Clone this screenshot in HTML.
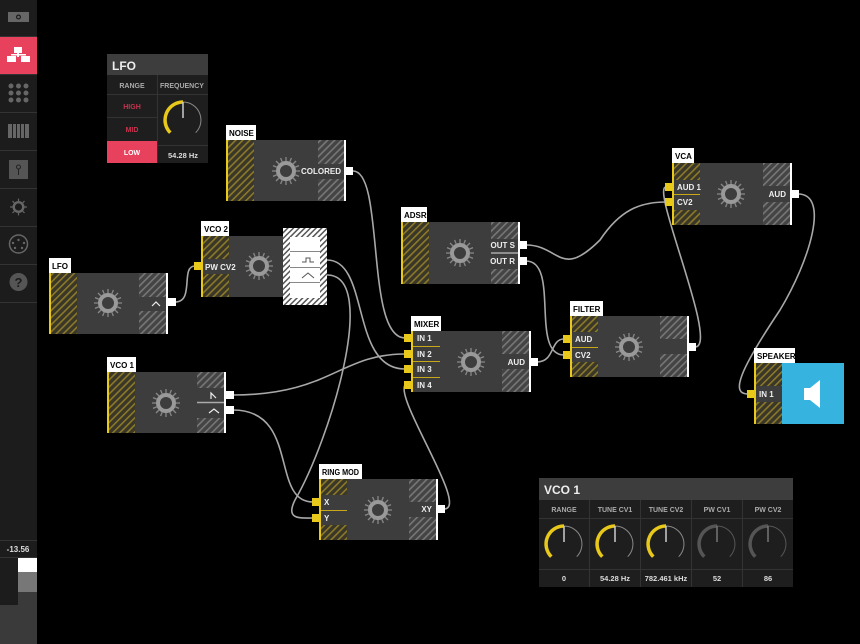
<!DOCTYPE html>
<html><head><meta charset="utf-8"><style>
html,body{margin:0;padding:0;background:#000;width:860px;height:644px;overflow:hidden}
svg{display:block}
text{font-family:"Liberation Sans",sans-serif;font-weight:bold}
</style></head><body>
<svg width="860" height="644" viewBox="0 0 860 644" xmlns="http://www.w3.org/2000/svg">
<defs>
<pattern id="hy" width="5" height="5" patternUnits="userSpaceOnUse" patternTransform="rotate(45)">
<rect width="5" height="5" fill="#3a3628"/><rect width="1.6" height="5" fill="#8a7a2a"/></pattern>
<pattern id="hg" width="5" height="5" patternUnits="userSpaceOnUse" patternTransform="rotate(45)">
<rect width="5" height="5" fill="#444"/><rect width="1.6" height="5" fill="#777"/></pattern>
<pattern id="hw" width="4" height="4" patternUnits="userSpaceOnUse" patternTransform="rotate(45)">
<rect width="4" height="4" fill="#fff"/><rect width="1.5" height="4" fill="#555"/></pattern>
<g id="knob">
<g stroke="#888" stroke-width="1.3">
<line x1="0" y1="-14" x2="0" y2="14"/><line x1="-14" y1="0" x2="14" y2="0"/>
<line x1="-10" y1="-10" x2="10" y2="10"/><line x1="-10" y1="10" x2="10" y2="-10"/>
<line x1="-5.4" y1="-13" x2="5.4" y2="13"/><line x1="5.4" y1="-13" x2="-5.4" y2="13"/>
<line x1="-13" y1="-5.4" x2="13" y2="5.4"/><line x1="-13" y1="5.4" x2="13" y2="-5.4"/>
</g>
<circle r="10" fill="#3d3d3d"/><circle r="8" fill="none" stroke="#999" stroke-width="4"/>
</g>
<g id="dial">
<path d="M0,-18 A18,18 0 0 1 12.7,12.7" fill="none" stroke="#888" stroke-width="1"/>
<path d="M-12.7,12.7 A18,18 0 0 1 0,-18" fill="none" stroke="#e8c81a" stroke-width="3.5"/>
<line x1="0" y1="-18" x2="0" y2="-2" stroke="#ccc" stroke-width="1.5"/>
</g>
<g id="dialoff">
<path d="M0,-18 A18,18 0 0 1 12.7,12.7" fill="none" stroke="#555" stroke-width="1"/>
<path d="M-12.7,12.7 A18,18 0 0 1 0,-18" fill="none" stroke="#555" stroke-width="3.5"/>
<line x1="0" y1="-18" x2="0" y2="-2" stroke="#777" stroke-width="1.5"/>
</g>
</defs>

<rect x="0" y="0" width="37" height="644" fill="#1c1c1c"/>
<g stroke="#333" stroke-width="1">
<line x1="0" y1="36.5" x2="37" y2="36.5"/><line x1="0" y1="74.5" x2="37" y2="74.5"/><line x1="0" y1="112.5" x2="37" y2="112.5"/>
<line x1="0" y1="150.5" x2="37" y2="150.5"/><line x1="0" y1="188.5" x2="37" y2="188.5"/><line x1="0" y1="226.5" x2="37" y2="226.5"/>
<line x1="0" y1="264.5" x2="37" y2="264.5"/><line x1="0" y1="302.5" x2="37" y2="302.5"/>
</g>
<rect x="8" y="12" width="21" height="10" fill="#666"/><circle cx="18.5" cy="17" r="2.5" fill="#1c1c1c"/><circle cx="18.5" cy="17" r="1.3" fill="#666"/>
<rect x="0" y="37" width="37" height="37" fill="#e8415d"/>
<g fill="#fff"><rect x="14" y="47" width="8" height="6"/><rect x="7" y="56" width="9" height="6"/><rect x="21" y="56" width="9" height="6"/><rect x="17" y="53" width="2" height="4"/><rect x="11" y="54" width="15" height="1.5"/></g>
<g fill="#666"><circle cx="11" cy="86" r="2.5"/><circle cx="18.5" cy="86" r="2.5"/><circle cx="26" cy="86" r="2.5"/><circle cx="11" cy="93" r="2.5"/><circle cx="18.5" cy="93" r="2.5"/><circle cx="26" cy="93" r="2.5"/><circle cx="11" cy="100" r="2.5"/><circle cx="18.5" cy="100" r="2.5"/><circle cx="26" cy="100" r="2.5"/></g>
<g fill="#666"><rect x="8" y="124" width="21" height="14"/></g>
<g stroke="#1c1c1c" stroke-width="1"><line x1="12.5" y1="124" x2="12.5" y2="138"/><line x1="16.5" y1="124" x2="16.5" y2="138"/><line x1="20.5" y1="124" x2="20.5" y2="138"/><line x1="24.5" y1="124" x2="24.5" y2="138"/></g>
<rect x="9" y="160" width="19" height="19" fill="#555"/><circle cx="18.5" cy="167" r="2" fill="none" stroke="#222"/><line x1="18.5" y1="169" x2="18.5" y2="175" stroke="#222"/>
<g transform="translate(18.5,207) scale(0.6)"><g stroke="#666" stroke-width="2">
<line x1="0" y1="-14" x2="0" y2="14"/><line x1="-14" y1="0" x2="14" y2="0"/><line x1="-10" y1="-10" x2="10" y2="10"/><line x1="-10" y1="10" x2="10" y2="-10"/></g>
<circle r="10" fill="#1c1c1c"/><circle r="8" fill="none" stroke="#666" stroke-width="4"/></g>
<circle cx="18.5" cy="244" r="9" fill="none" stroke="#666" stroke-width="1.5"/><g fill="#666"><circle cx="13" cy="243" r="1.2"/><circle cx="24" cy="243" r="1.2"/><circle cx="18.5" cy="240" r="1.2"/><circle cx="15" cy="248" r="1.2"/><circle cx="22" cy="248" r="1.2"/></g>
<circle cx="18.5" cy="282" r="9" fill="#555"/><text x="18.5" y="287" font-size="13" fill="#1c1c1c" text-anchor="middle">?</text>
<line x1="0" y1="540.5" x2="37" y2="540.5" stroke="#333"/>
<line x1="0" y1="557.5" x2="37" y2="557.5" stroke="#333"/>
<text x="18" y="552" font-size="8" fill="#ddd" text-anchor="middle" font-weight="normal">-13.56</text>
<rect x="0" y="558" width="18" height="47" fill="#1c1c1c"/>
<rect x="18" y="558" width="19" height="14" fill="#fff"/>
<rect x="18" y="572" width="19" height="20" fill="#777"/>
<rect x="18" y="592" width="19" height="52" fill="#3a3a3a"/>
<rect x="0" y="605" width="18" height="39" fill="#3a3a3a"/>

<g fill="none" stroke="#a8a8a8" stroke-width="1.6">
<path d="M353,171 C385,171 365,338 405,338"/>
<path d="M175,302 C195,302 180,266 195,266"/>
<path d="M327,260 C370,260 350,369 405,369"/>
<path d="M327,275 C380,275 330,440 295,500 C285,520 300,518 313,518"/>
<path d="M233,395 C330,395 340,354 405,354"/>
<path d="M233,410 C300,410 270,502 313,502"/>
<path d="M444,509 C470,509 395,400 405,385"/>
<path d="M537,362 C555,362 550,339 564,339"/>
<path d="M526,245 C560,245 560,280 600,240 C620,210 640,202 666,202"/>
<path d="M526,261 C560,261 530,355 564,355"/>
<path d="M695,347 C720,347 650,187 666,187"/>
<path d="M798,194 C830,194 810,260 780,310 C740,370 730,394 748,394"/>
</g>

<rect x="107" y="54" width="101" height="109" fill="#1e1e1e"/>
<rect x="107" y="54" width="101" height="21" fill="#3d3d3d"/>
<text x="112" y="70" font-size="12" fill="#eee" font-weight="normal">LFO</text>
<g stroke="#333"><line x1="157.5" y1="75" x2="157.5" y2="163"/><line x1="107" y1="94.5" x2="208" y2="94.5"/><line x1="107" y1="117.5" x2="157" y2="117.5"/><line x1="158" y1="145.5" x2="208" y2="145.5"/></g>
<text x="132" y="88" font-size="7" fill="#aaa" text-anchor="middle" font-weight="normal">RANGE</text>
<text x="182" y="88" font-size="7" fill="#aaa" text-anchor="middle" font-weight="normal">FREQUENCY</text>
<text x="132" y="109" font-size="7" fill="#c8344e" text-anchor="middle" font-weight="normal">HIGH</text>
<text x="132" y="132" font-size="7" fill="#c8344e" text-anchor="middle" font-weight="normal">MID</text>
<rect x="107" y="141" width="50" height="22" fill="#e8415d"/>
<text x="132" y="155" font-size="7" fill="#fff" text-anchor="middle" font-weight="normal">LOW</text>
<text x="183" y="158" font-size="7.5" fill="#ddd" text-anchor="middle">54.28 Hz</text>
<use href="#dial" transform="translate(183,120)"/>

<g>
<rect x="226" y="125" width="30" height="15" fill="#fff"/><text x="229" y="136" font-size="8" fill="#000">NOISE</text>
<rect x="226" y="140" width="119" height="61" fill="#3d3d3d"/>
<rect x="226" y="140" width="28" height="61" fill="url(#hy)"/><rect x="226" y="140" width="2" height="61" fill="#e8c81a"/>
<rect x="318" y="140" width="27" height="24" fill="url(#hg)"/><rect x="318" y="179" width="27" height="22" fill="url(#hg)"/>
<rect x="344" y="140" width="2" height="61" fill="#fff"/>
<text x="341" y="174" font-size="8" fill="#eee" text-anchor="end">COLORED</text>
<rect x="346" y="167" width="7" height="8" fill="#fff"/>
<use href="#knob" x="286" y="171"/>
</g>

<g>
<rect x="49" y="258" width="22" height="15" fill="#fff"/><text x="52" y="269" font-size="8" fill="#000">LFO</text>
<rect x="49" y="273" width="119" height="61" fill="#3d3d3d"/>
<rect x="49" y="273" width="28" height="61" fill="url(#hy)"/><rect x="49" y="273" width="2" height="61" fill="#e8c81a"/>
<rect x="139" y="273" width="27" height="24" fill="url(#hg)"/><rect x="139" y="311" width="27" height="23" fill="url(#hg)"/>
<rect x="166" y="273" width="2" height="61" fill="#fff"/>
<path d="M152,306 L156,302 L160,306" fill="none" stroke="#eee" stroke-width="1.2"/>
<rect x="168" y="298" width="8" height="8" fill="#fff"/>
<use href="#knob" x="108" y="303"/>
</g>

<g>
<rect x="201" y="221" width="28" height="15" fill="#fff"/><text x="204" y="232" font-size="8" fill="#000">VCO 2</text>
<rect x="201" y="236" width="82" height="61" fill="#3d3d3d"/>
<rect x="201" y="236" width="28" height="61" fill="url(#hy)"/><rect x="201" y="236" width="2" height="61" fill="#e8c81a"/>
<rect x="203" y="259" width="40" height="15" fill="#3d3d3d"/>
<text x="205" y="270" font-size="8" fill="#eee">PW CV2</text>
<rect x="194" y="262" width="8" height="8" fill="#e8c81a"/>
<use href="#knob" x="259" y="266"/>
<rect x="283" y="228" width="44" height="77" fill="url(#hw)"/>
<rect x="290" y="237" width="30" height="61" fill="#fff"/>
<g stroke="#888" stroke-width="1"><line x1="290" y1="251.5" x2="320" y2="251.5"/><line x1="290" y1="267.5" x2="320" y2="267.5"/><line x1="290" y1="282.5" x2="320" y2="282.5"/></g>
<path d="M302,262 h4 v-4 h4 v4 h4" fill="none" stroke="#555" stroke-width="1"/>
<path d="M302,278 L308,273 L314,278" fill="none" stroke="#555" stroke-width="1"/>
</g>

<g>
<rect x="401" y="207" width="26" height="15" fill="#fff"/><text x="404" y="218" font-size="8" fill="#000">ADSR</text>
<rect x="401" y="222" width="118" height="62" fill="#3d3d3d"/>
<rect x="401" y="222" width="28" height="62" fill="url(#hy)"/><rect x="401" y="222" width="2" height="62" fill="#e8c81a"/>
<rect x="491" y="222" width="27" height="17" fill="url(#hg)"/><rect x="491" y="269" width="27" height="15" fill="url(#hg)"/>
<rect x="518" y="222" width="2" height="62" fill="#fff"/>
<line x1="491" y1="253" x2="518" y2="253" stroke="#aaa" stroke-width="1.5"/>
<text x="515" y="248" font-size="8" fill="#eee" text-anchor="end">OUT S</text>
<text x="515" y="264" font-size="8" fill="#eee" text-anchor="end">OUT R</text>
<rect x="520" y="241" width="7" height="8" fill="#fff"/><rect x="520" y="257" width="7" height="8" fill="#fff"/>
<use href="#knob" x="460" y="253"/>
</g>

<g>
<rect x="411" y="316" width="30" height="15" fill="#fff"/><text x="414" y="327" font-size="8" fill="#000">MIXER</text>
<rect x="411" y="331" width="119" height="61" fill="#3d3d3d"/>
<rect x="411" y="331" width="2" height="61" fill="#e8c81a"/>
<rect x="502" y="331" width="27" height="23" fill="url(#hg)"/><rect x="502" y="369" width="27" height="23" fill="url(#hg)"/>
<rect x="529" y="331" width="2" height="61" fill="#fff"/>
<g stroke="#c8a818" stroke-width="1"><line x1="413" y1="346.5" x2="440" y2="346.5"/><line x1="413" y1="361.5" x2="440" y2="361.5"/><line x1="413" y1="377.5" x2="440" y2="377.5"/></g>
<text x="417" y="341" font-size="8" fill="#eee">IN 1</text><text x="417" y="357" font-size="8" fill="#eee">IN 2</text>
<text x="417" y="372" font-size="8" fill="#eee">IN 3</text><text x="417" y="388" font-size="8" fill="#eee">IN 4</text>
<g fill="#e8c81a"><rect x="404" y="334" width="8" height="8"/><rect x="404" y="350" width="8" height="8"/><rect x="404" y="365" width="8" height="8"/><rect x="404" y="381" width="8" height="8"/></g>
<text x="525" y="365" font-size="8" fill="#eee" text-anchor="end">AUD</text>
<rect x="531" y="358" width="7" height="8" fill="#fff"/>
<use href="#knob" x="471" y="362"/>
</g>

<g>
<rect x="570" y="301" width="33" height="15" fill="#fff"/><text x="573" y="312" font-size="8" fill="#000">FILTER</text>
<rect x="570" y="316" width="118" height="61" fill="#3d3d3d"/>
<rect x="570" y="316" width="28" height="61" fill="url(#hy)"/><rect x="570" y="316" width="2" height="61" fill="#e8c81a"/>
<rect x="572" y="332" width="26" height="30" fill="#3d3d3d"/>
<line x1="572" y1="347.5" x2="598" y2="347.5" stroke="#c8a818"/>
<rect x="660" y="316" width="27" height="23" fill="url(#hg)"/><rect x="660" y="354" width="27" height="23" fill="url(#hg)"/>
<rect x="687" y="316" width="2" height="61" fill="#fff"/>
<text x="575" y="342" font-size="8" fill="#eee">AUD</text><text x="575" y="358" font-size="8" fill="#eee">CV2</text>
<rect x="563" y="335" width="8" height="8" fill="#e8c81a"/><rect x="563" y="351" width="8" height="8" fill="#e8c81a"/>
<rect x="689" y="343" width="7" height="8" fill="#fff"/>
<use href="#knob" x="629" y="347"/>
</g>

<g>
<rect x="672" y="148" width="22" height="15" fill="#fff"/><text x="675" y="159" font-size="8" fill="#000">VCA</text>
<rect x="672" y="163" width="119" height="62" fill="#3d3d3d"/>
<rect x="672" y="163" width="28" height="62" fill="url(#hy)"/><rect x="672" y="163" width="2" height="62" fill="#e8c81a"/>
<rect x="674" y="180" width="26" height="30" fill="#3d3d3d"/>
<line x1="674" y1="194.5" x2="700" y2="194.5" stroke="#c8a818"/>
<rect x="763" y="163" width="27" height="23" fill="url(#hg)"/><rect x="763" y="202" width="27" height="23" fill="url(#hg)"/>
<rect x="790" y="163" width="2" height="62" fill="#fff"/>
<text x="677" y="190" font-size="8" fill="#eee">AUD 1</text><text x="677" y="205" font-size="8" fill="#eee">CV2</text>
<rect x="665" y="183" width="8" height="8" fill="#e8c81a"/><rect x="665" y="198" width="8" height="8" fill="#e8c81a"/>
<text x="786" y="197" font-size="8" fill="#eee" text-anchor="end">AUD</text>
<rect x="792" y="190" width="7" height="8" fill="#fff"/>
<use href="#knob" x="731" y="194"/>
</g>

<g>
<rect x="754" y="348" width="41" height="15" fill="#fff"/><text x="757" y="359" font-size="8" fill="#000">SPEAKER</text>
<rect x="754" y="363" width="28" height="61" fill="url(#hy)"/><rect x="754" y="363" width="2" height="61" fill="#e8c81a"/>
<rect x="756" y="386" width="26" height="16" fill="#3d3d3d"/>
<text x="759" y="397" font-size="8" fill="#eee">IN 1</text>
<rect x="747" y="390" width="8" height="8" fill="#e8c81a"/>
<rect x="782" y="363" width="62" height="61" fill="#36b3df"/>
<path d="M804,388 h6 l10,-8 v28 l-10,-8 h-6 z" fill="#fff"/>
</g>

<g>
<rect x="107" y="357" width="29" height="15" fill="#fff"/><text x="110" y="368" font-size="8" fill="#000">VCO 1</text>
<rect x="107" y="372" width="119" height="61" fill="#3d3d3d"/>
<rect x="107" y="372" width="28" height="61" fill="url(#hy)"/><rect x="107" y="372" width="2" height="61" fill="#e8c81a"/>
<rect x="197" y="372" width="27" height="16" fill="url(#hg)"/><rect x="197" y="418" width="27" height="15" fill="url(#hg)"/>
<rect x="224" y="372" width="2" height="61" fill="#fff"/>
<line x1="197" y1="402.5" x2="224" y2="402.5" stroke="#aaa" stroke-width="1.5"/>
<path d="M211,399 L211,393 L216,398" fill="none" stroke="#eee" stroke-width="1.2"/>
<path d="M209,413 L214,409 L219,413" fill="none" stroke="#eee" stroke-width="1.2"/>
<rect x="226" y="391" width="8" height="8" fill="#fff"/><rect x="226" y="406" width="8" height="8" fill="#fff"/>
<use href="#knob" x="166" y="403"/>
</g>

<g>
<rect x="319" y="464" width="43" height="15" fill="#fff"/><text x="322" y="475" font-size="8" fill="#000" textLength="37" lengthAdjust="spacingAndGlyphs">RING MOD</text>
<rect x="319" y="479" width="118" height="61" fill="#3d3d3d"/>
<rect x="319" y="479" width="28" height="61" fill="url(#hy)"/><rect x="319" y="479" width="2" height="61" fill="#e8c81a"/>
<rect x="321" y="495" width="26" height="30" fill="#3d3d3d"/>
<line x1="321" y1="510.5" x2="347" y2="510.5" stroke="#c8a818"/>
<rect x="409" y="479" width="27" height="23" fill="url(#hg)"/><rect x="409" y="517" width="27" height="23" fill="url(#hg)"/>
<rect x="436" y="479" width="2" height="61" fill="#fff"/>
<text x="324" y="505" font-size="8" fill="#eee">X</text><text x="324" y="521" font-size="8" fill="#eee">Y</text>
<rect x="312" y="498" width="8" height="8" fill="#e8c81a"/><rect x="312" y="514" width="8" height="8" fill="#e8c81a"/>
<text x="432" y="512" font-size="8" fill="#eee" text-anchor="end">XY</text>
<rect x="438" y="505" width="7" height="8" fill="#fff"/>
<use href="#knob" x="378" y="510"/>
</g>

<rect x="539" y="478" width="254" height="109" fill="#1e1e1e"/>
<rect x="539" y="478" width="254" height="22" fill="#3d3d3d"/>
<text x="544" y="494" font-size="12" fill="#eee" font-weight="normal">VCO 1</text>
<g stroke="#333"><line x1="589.5" y1="500" x2="589.5" y2="587"/><line x1="640.5" y1="500" x2="640.5" y2="587"/><line x1="691.5" y1="500" x2="691.5" y2="587"/><line x1="742.5" y1="500" x2="742.5" y2="587"/>
<line x1="539" y1="518.5" x2="793" y2="518.5"/><line x1="539" y1="569.5" x2="793" y2="569.5"/></g>
<g font-size="7" fill="#aaa" text-anchor="middle">
<text x="564" y="512" font-weight="normal">RANGE</text><text x="615" y="512" font-weight="normal">TUNE CV1</text><text x="666" y="512" font-weight="normal">TUNE CV2</text><text x="717" y="512" font-weight="normal">PW CV1</text><text x="768" y="512" font-weight="normal">PW CV2</text>
</g>
<g font-size="7.5" fill="#ddd" text-anchor="middle">
<text x="564" y="581">0</text><text x="615" y="581">54.28 Hz</text><text x="666" y="581">782.461 kHz</text><text x="717" y="581">52</text><text x="768" y="581">86</text>
</g>
<use href="#dial" transform="translate(564,544)"/>
<use href="#dial" transform="translate(615,544)"/>
<use href="#dial" transform="translate(666,544)"/>
<use href="#dialoff" transform="translate(717,544)"/>
<use href="#dialoff" transform="translate(768,544)"/>
</svg>
</body></html>
